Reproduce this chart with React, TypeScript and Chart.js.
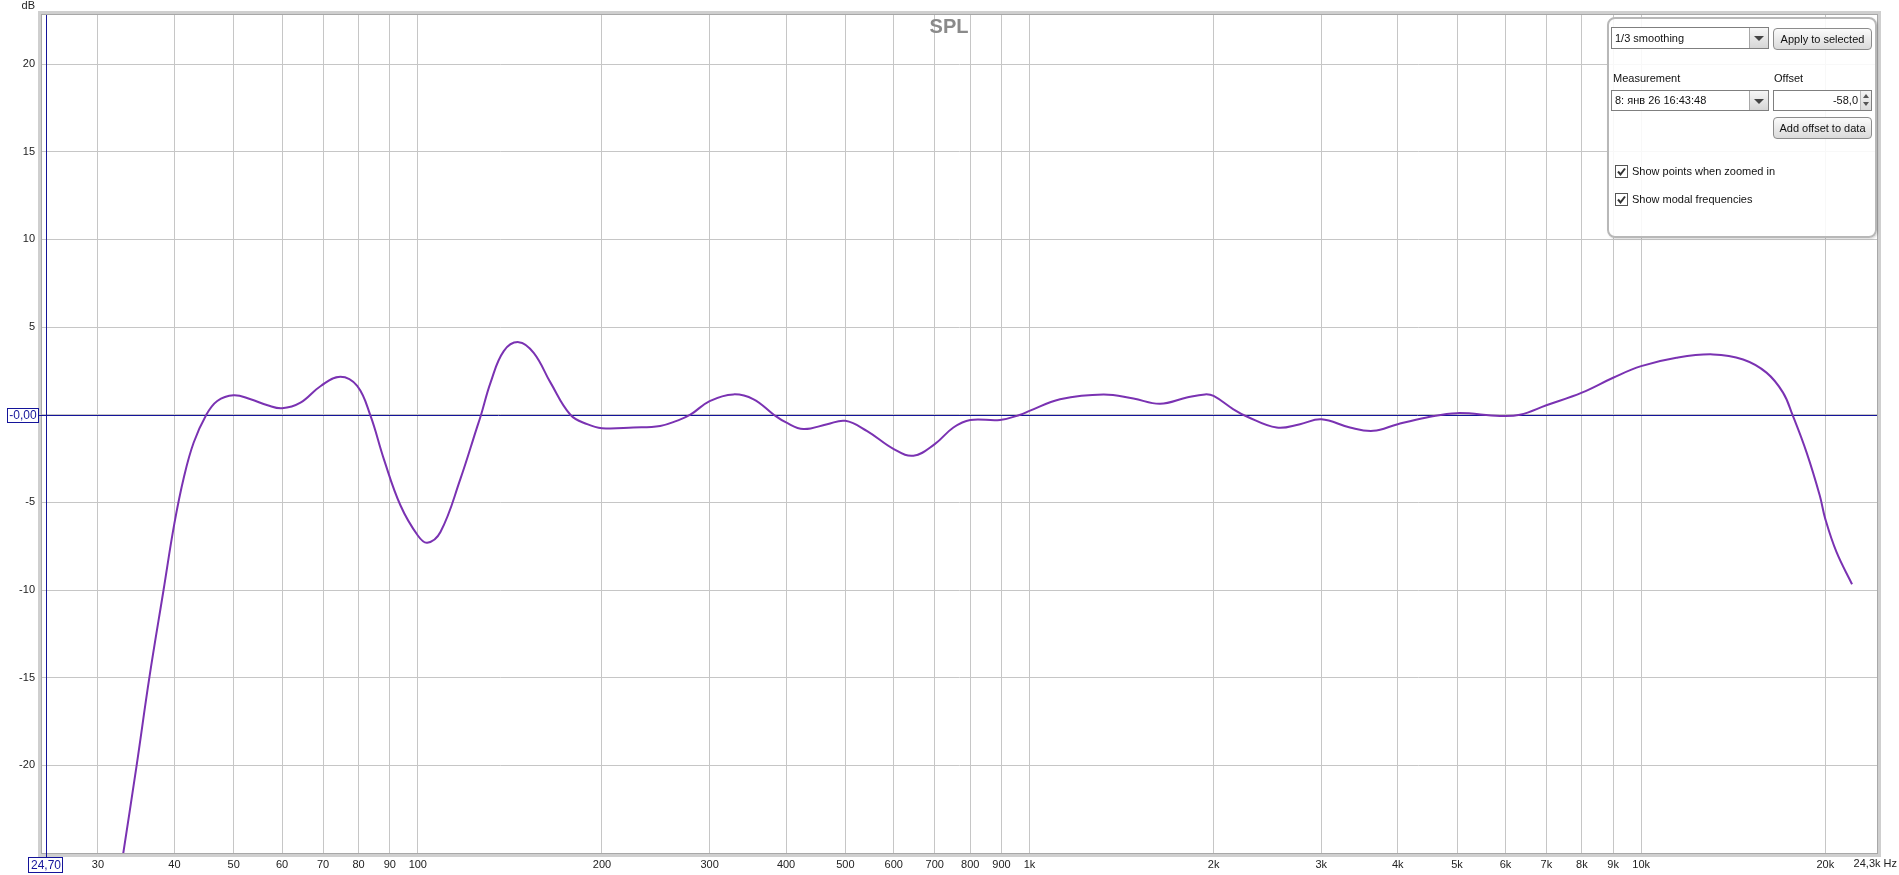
import React, { useEffect, useRef } from 'react';
import { Chart, registerables } from 'chart.js';

Chart.register(...registerables);

const freqs = [
  32.9, 34.7, 36.4, 38.4, 40, 41.5, 43, 45, 47, 50, 53.3, 56.8, 60, 64.3, 69.4, 74.7, 79.6, 83.7, 88,
  93.7, 100, 103.6, 108.9, 117.4, 124.7, 126.9, 131.5, 138.2, 146.2, 154.7, 164.8, 177.6, 189.2, 200,
  225, 249, 265, 279, 300, 328, 354, 382, 400, 427, 467, 500, 542, 600, 646, 700, 751, 800, 895, 966,
  1000, 1122, 1321, 1479, 1635, 1808, 1936, 2000, 2155, 2266, 2536, 2769, 3000, 3342, 3648, 4000, 4461,
  5000, 5875, 6337, 7000, 8000, 9000, 10000, 11420, 13110, 14680, 16030, 17060, 17680, 18640, 19590,
  20000, 20860, 22120,
];
const spl = [
  -25.3, -20.0, -15.0, -10.0, -6.2, -3.5, -1.6, -0.07, 0.78, 1.11, 0.88, 0.54, 0.37, 0.69, 1.64, 2.17, 1.64, -0.07, -2.53,
  -5.18, -6.89, -7.3, -6.69, -3.66, -0.82, 0.0, 1.83, 3.63, 4.14, 3.53, 1.83, 0.0, -0.54, -0.77,
  -0.73, -0.64, -0.35, 0.0, 0.78, 1.16, 0.88, 0.0, -0.44, -0.82, -0.54, -0.35, -0.92, -1.96, -2.34, -1.68, -0.73, -0.3, -0.3, 0.0,
  0.22, 0.88, 1.16, 0.92, 0.63, 0.98, 1.16, 1.07, 0.31, -0.1, -0.73, -0.54, -0.26, -0.73, -0.92, -0.54, -0.16,
  0.09, -0.07, 0.0, 0.54, 1.26, 2.11, 2.77, 3.25, 3.44, 3.15, 2.4, 1.26, -0.01, -2.15, -4.61,
  -5.94, -7.83, -9.67,
];

const xTickValues = [
  30, 40, 50, 60, 70, 80, 90, 100, 200, 300, 400, 500, 600, 700, 800, 900,
  1000, 2000, 3000, 4000, 5000, 6000, 7000, 8000, 9000, 10000, 20000,
];
const xTickLabels = [
  '30', '40', '50', '60', '70', '80', '90', '100', '200', '300', '400', '500', '600', '700', '800', '900',
  '1k', '2k', '3k', '4k', '5k', '6k', '7k', '8k', '9k', '10k', '20k',
];
const yTickValues = [-20, -15, -10, -5, 0, 5, 10, 15, 20];

const xMin = 24.3;
const xMax = 24300;
const yMin = -25;
const yMax = 22.8;
const cursorFreq = 24.7;
const cursorLabel = '24,70';
const refLevel = 0;
const refLevelLabel = '-0,00';
const xEndLabel = '24,3k Hz';

const NAVY = '#14149a';
const FONT = '"Liberation Sans", Arial, sans-serif';

const overlay = {
    id: 'rewOverlay',
    beforeDatasetsDraw(chart: any) {
        const { ctx, chartArea: a, scales } = chart;
        ctx.save();
        // plot frame
        ctx.strokeStyle = '#cfcfcf';
        ctx.lineWidth = 4;
        ctx.strokeRect(a.left - 2, a.top - 2, a.right - a.left + 4, a.bottom - a.top + 4);
        ctx.strokeStyle = '#a8a8a8';
        ctx.lineWidth = 1;
        ctx.strokeRect(a.left - 0.5, a.top - 0.5, a.right - a.left + 1, a.bottom - a.top + 1);

        // reference level + cursor
        const y0 = Math.round(scales.y.getPixelForValue(refLevel)) + 0.5;
        const xc = Math.round(scales.x.getPixelForValue(cursorFreq)) + 0.5;
        ctx.strokeStyle = NAVY;
        ctx.beginPath();
        ctx.moveTo(39, y0);
        ctx.lineTo(a.right, y0);
        ctx.moveTo(xc, a.top);
        ctx.lineTo(xc, a.bottom + 4);
        ctx.stroke();
        ctx.restore();
    },
    afterDraw(chart: any) {
        const { ctx, chartArea: a, scales } = chart;
        ctx.save();
        ctx.textBaseline = 'middle';

        ctx.font = `bold 20px ${FONT}`;
        ctx.fillStyle = '#8a8a8a';
        ctx.textAlign = 'center';
        ctx.fillText('SPL', 949, 27);

        ctx.font = `11px ${FONT}`;
        ctx.fillStyle = '#222';
        ctx.textAlign = 'right';
        ctx.fillText('dB', 35, 6);
        ctx.fillText(xEndLabel, 1897, 864);

        // level box on the y axis
        const y0 = Math.round(scales.y.getPixelForValue(refLevel));
        ctx.fillStyle = '#fff';
        ctx.fillRect(7, y0 - 7, 32, 15);
        ctx.strokeStyle = NAVY;
        ctx.lineWidth = 1;
        ctx.strokeRect(7.5, y0 - 6.5, 31, 14);
        ctx.fillStyle = NAVY;
        ctx.font = `12px ${FONT}`;
        ctx.textAlign = 'center';
        ctx.fillText(refLevelLabel, 23, y0 + 1);

        // cursor box on the x axis
        const xc = Math.round(scales.x.getPixelForValue(cursorFreq));
        ctx.fillStyle = '#fff';
        ctx.fillRect(xc - 18, a.bottom + 4, 35, 16);
        ctx.strokeRect(xc - 17.5, a.bottom + 4.5, 34, 15);
        ctx.fillStyle = NAVY;
        ctx.fillText(cursorLabel, xc, a.bottom + 12.5);
        ctx.restore();
    },
};

const Select: React.FC<{ left: number; top: number; width: number; height: number; text: string }> = ({ left, top, width, height, text }) => (
    <div style={{ position: 'absolute', left, top, width, height, border: '1px solid #7f7f7f', background: '#fff', boxSizing: 'border-box' }}>
        <span style={{ position: 'absolute', left: 3, top: 0, lineHeight: `${height - 2}px`, whiteSpace: 'nowrap' }}>{text}</span>
        <div style={{ position: 'absolute', right: 0, top: 0, bottom: 0, width: 18, borderLeft: '1px solid #a8a8a8', background: 'linear-gradient(#f6f6f6,#d6d6d6)' }}>
            <div style={{ position: 'absolute', left: 4, top: (height - 2) / 2 - 2, width: 0, height: 0, borderLeft: '5px solid transparent', borderRight: '5px solid transparent', borderTop: '5px solid #444' }} />
        </div>
    </div>
);

const Button: React.FC<{ left: number; top: number; width: number; height: number; text: string }> = ({ left, top, width, height, text }) => (
    <div style={{
        position: 'absolute', left, top, width, height, boxSizing: 'border-box', border: '1px solid #8c8c8c', borderRadius: 4,
        background: 'linear-gradient(#fbfbfb,#dadada)', textAlign: 'center', lineHeight: `${height - 2}px`, whiteSpace: 'nowrap',
    }}>{text}</div>
);

const CheckRow: React.FC<{ top: number; text: string }> = ({ top, text }) => (
    <div style={{ position: 'absolute', left: 6, top, height: 13 }}>
        <div style={{ position: 'absolute', left: 0, top: 0, width: 13, height: 13, boxSizing: 'border-box', border: '1px solid #555', background: '#fff' }}>
            <svg width="11" height="11" style={{ position: 'absolute', left: 0, top: 0 }}>
                <polyline points="2,5.5 4.5,8.5 9,2.5" fill="none" stroke="#333" strokeWidth="2" />
            </svg>
        </div>
        <span style={{ position: 'absolute', left: 17, top: 0, lineHeight: '13px', whiteSpace: 'nowrap' }}>{text}</span>
    </div>
);

const ControlPanel: React.FC = () => (
    <div style={{
        position: 'absolute', left: 1607, top: 17, width: 270, height: 221, boxSizing: 'border-box',
        border: '2px solid #b8b8b8', borderRadius: 8, background: 'rgba(255,255,255,0.88)',
        fontFamily: FONT, fontSize: 11, color: '#111', boxShadow: '1px 1px 2px rgba(0,0,0,0.15)',
    }}>
        <Select left={2} top={8} width={158} height={22} text="1/3 smoothing" />
        <Button left={164} top={9} width={99} height={22} text="Apply to selected" />
        <div style={{ position: 'absolute', left: 4, top: 52, lineHeight: '14px' }}>Measurement</div>
        <div style={{ position: 'absolute', left: 165, top: 52, lineHeight: '14px' }}>Offset</div>
        <Select left={2} top={71} width={158} height={21} text="8: янв 26 16:43:48" />
        <div style={{ position: 'absolute', left: 164, top: 71, width: 99, height: 21, boxSizing: 'border-box', border: '1px solid #7f7f7f', background: '#fff' }}>
            <span style={{ position: 'absolute', right: 13, top: 0, lineHeight: '19px' }}>-58,0</span>
            <div style={{ position: 'absolute', right: 0, top: 0, bottom: 0, width: 10, borderLeft: '1px solid #bbb', background: 'linear-gradient(#f4f4f4,#dcdcdc)' }}>
                <div style={{ position: 'absolute', left: 2, top: 3, borderLeft: '3px solid transparent', borderRight: '3px solid transparent', borderBottom: '4px solid #555' }} />
                <div style={{ position: 'absolute', left: 2, top: 11, borderLeft: '3px solid transparent', borderRight: '3px solid transparent', borderTop: '4px solid #555' }} />
            </div>
        </div>
        <Button left={164} top={98} width={99} height={22} text="Add offset to data" />
        <CheckRow top={146} text="Show points when zoomed in" />
        <CheckRow top={174} text="Show modal frequencies" />
    </div>
);

export default function App() {
    const canvasRef = useRef<HTMLCanvasElement>(null);
    const chartInstance = useRef<Chart | null>(null);

    useEffect(() => {
        if (!canvasRef.current) return;
        const ctx = canvasRef.current.getContext('2d');
        if (!ctx) return;

        const points = freqs.map((f, i) => ({ x: f, y: spl[i] }));

        chartInstance.current = new Chart(ctx, {
            type: 'line',
            data: {
                datasets: [
                    {
                        label: 'SPL',
                        data: points,
                        borderColor: '#7a32b2',
                        borderWidth: 2,
                        pointRadius: 0,
                        tension: 0.4,
                        fill: false,
                    },
                ],
            },
            options: {
                responsive: false,
                devicePixelRatio: 1,
                animation: false,
                layout: { padding: { top: 15, right: 22, left: 0, bottom: 0 } },
                plugins: {
                    legend: { display: false },
                    tooltip: { enabled: false },
                    title: { display: false },
                },
                scales: {
                    x: {
                        type: 'logarithmic',
                        min: xMin,
                        max: xMax,
                        afterBuildTicks: (scale: any) => {
                            scale.ticks = xTickValues.map(v => ({ value: v }));
                        },
                        afterFit: (scale: any) => {
                            scale.height = 22;
                        },
                        grid: { color: '#c6c6c6', drawTicks: false },
                        border: { display: false },
                        ticks: {
                            autoSkip: false,
                            maxRotation: 0,
                            minRotation: 0,
                            padding: 5,
                            color: '#222',
                            font: { family: FONT, size: 11 },
                            callback: (_v: any, i: number) => xTickLabels[i],
                        },
                    },
                    y: {
                        type: 'linear',
                        min: yMin,
                        max: yMax,
                        afterBuildTicks: (scale: any) => {
                            scale.ticks = yTickValues.map(v => ({ value: v }));
                        },
                        afterFit: (scale: any) => {
                            scale.width = 42;
                        },
                        grid: { color: '#c6c6c6', drawTicks: false },
                        border: { display: false },
                        ticks: {
                            padding: 7,
                            color: '#222',
                            font: { family: FONT, size: 11 },
                            callback: (v: any) => (v === refLevel ? '' : String(v)),
                        },
                    },
                },
            },
            plugins: [overlay],
        });

        return () => {
            if (chartInstance.current) chartInstance.current.destroy();
            chartInstance.current = null;
        };
    }, []);

    return (
        <div style={{ position: 'fixed', left: 0, top: 0, width: 1899, height: 875, background: '#fff', overflow: 'hidden' }}>
            <canvas ref={canvasRef} width={1899} height={875} style={{ position: 'absolute', left: 0, top: 0 }} />
            <ControlPanel />
        </div>
    );
}
